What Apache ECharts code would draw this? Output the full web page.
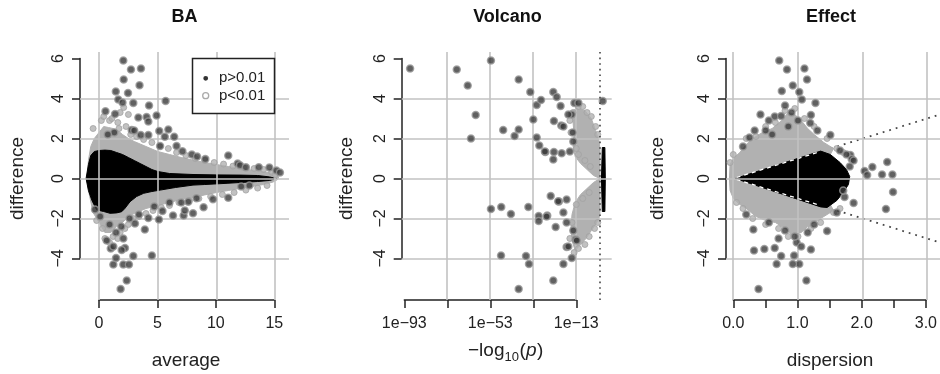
<!DOCTYPE html>
<html><head><meta charset="utf-8">
<script src="https://cdn.jsdelivr.net/npm/echarts/dist/echarts.min.js"></script>
<style>html,body{margin:0;padding:0;background:#fff}#c{width:940px;height:374px}</style>
</head><body><div id="c"></div>
<script>
// ---------------- data ----------------
const panelTitles = ['BA', 'Volcano', 'Effect'];
const xTitles = ['average', '', 'dispersion'];
const yTitle = 'difference';
const legendLabels = ['p>0.01', 'p<0.01'];

const yTicks = [-4, 6, 2];            // min, max, step of y tick labels
const gridY = [-4, -2, 0, 2, 4];

const baXTicks = [0, 15, 5];
const baGridX = [0, 5, 10, 15];
const volXTicks = [-93, -13, 20];     // log10(p)
const volLabelled = [-93, -53, -13];
const volGridX = [-73, -53, -33, -13];
const volCutoff = [-2];               // log10(0.01)
const effXTicks = [0, 3, 0.5];
const effLabelled = [0, 1, 2, 3];
const effGridX = [0, 1, 2, 3];
const effRefSlopes = [1, -1];
const effRefX = [0, 3.2];
const effWedgeX = [0.05, 1.35];

// BA : dense clouds (outlines) and separate points
const baBlackCloud = [[-1.1,0],[-0.9,0.7],[-0.7,1.15],[-0.4,1.35],[0,1.4],[0.5,1.42],[1,1.4],[1.5,1.3],[2,1.2],[2.5,1.05],[3,0.9],[3.5,0.75],[4,0.6],[4.5,0.45],[5,0.35],[6,0.25],[8,0.2],[10,0.18],[12,0.17],[13.5,0.15],[14.5,0.08],[15.1,0],
  [14.5,-0.1],[13.5,-0.15],[12,-0.2],[10.9,-0.24],[9,-0.3],[8,-0.33],[6.5,-0.45],[5.2,-0.58],[4.5,-0.65],[3.8,-0.74],[3.2,-0.9],[2.64,-1.16],[2.2,-1.5],[1.93,-1.66],[1.5,-1.72],[0.94,-1.74],[0.4,-1.65],[-0.2,-1.57],[-0.6,-1.1],[-0.9,-0.6]];
const baGrayCloud = [[-1.0,0],[-0.9,0.9],[-0.7,1.6],[-0.4,2.0],[0,2.3],[0.4,2.6],[0.8,2.55],[1.2,2.5],[1.6,2.4],[2,2.2],[2.5,2.0],[3,1.85],[4,1.6],[5,1.35],[6,1.2],[7,1.05],[8,0.92],[9,0.8],[10,0.7],[11,0.6],[12,0.5],[13,0.42],[14,0.35],[14.8,0.25],[15.3,0.08],
  [15.2,-0.05],[14.8,-0.18],[14,-0.3],[13,-0.4],[12,-0.5],[11,-0.6],[10,-0.7],[9,-0.82],[8,-0.95],[7,-1.05],[6,-1.2],[5,-1.35],[4,-1.5],[3,-1.75],[2.5,-1.9],[2,-2.2],[1.5,-2.4],[1.0,-2.7],[0.5,-2.7],[0,-2.2],[-0.5,-1.7],[-0.9,-0.6]];
const baGray = [[-0.5,2.5],[0.2,2.9],[0.4,3.1],[0.9,2.9],[1.1,3.0],[1.6,2.8],[1.8,3.3],[1.7,2.5],[2.3,2.6],[2.5,3.2],[2.1,3.55],[2.7,2.2],[3.2,2.1],[3.8,1.95],[4.5,1.8],[5.2,1.6],[5.9,1.5],[6.6,1.3],[7.4,1.15],[8.2,1.0],[9.0,0.9],[9.8,0.8],[10.6,0.72],[11.4,0.62],[12.3,0.55],[13.2,0.5],[14.0,0.45],[14.7,0.32],[15.0,0.2],
  [-0.2,-2.1],[0.3,-2.5],[0.5,-3.0],[0.9,-3.2],[1.2,-2.9],[1.6,-3.0],[1.8,-2.7],[2.2,-2.5],[2.5,-2.3],[2.9,-2.0],[3.4,-1.9],[4.0,-1.75],[4.6,-1.6],[5.3,-1.45],[6.0,-1.35],[6.8,-1.2],[7.7,-1.1],[8.5,-1.0],[9.5,-0.9],[10.5,-0.8],[11.5,-0.7],[12.5,-0.58],[13.5,-0.48],[14.3,-0.35]];
const baDark = [[2.07,5.9],[2.1,4.95],[2.72,5.45],[3.57,5.5],[3.45,4.66],[1.43,4.35],[2.47,4.27],[1.64,3.95],[2.0,3.8],[2.92,3.78],[4.26,3.65],[5.67,3.88],
  [0.55,3.36],[1.37,3.22],[3.35,3.05],[4.05,3.07],[4.9,3.15],[4.2,2.85],[2.78,2.43],[3.55,2.18],[4.2,2.18],[5.13,2.38],[5.6,2.09],[5.9,2.45],[6.4,2.09],[3.0,2.4],[1.3,2.3],[0.75,2.2],
  [5.2,1.62],[6.6,1.62],[7.1,1.36],[7.9,1.2],[8.35,1.1],[9.05,0.97],[11.0,1.15],[11.8,0.75],[12.0,0.66],[12.5,0.56],[13.6,0.56],[14.5,0.55],[15.1,0.4],[15.4,0.3],
  [1.84,-5.52],[2.36,-5.1],[2.07,-4.3],[2.55,-4.3],[1.22,-4.3],[1.45,-3.97],[2.92,-3.88],[4.5,-3.85],[2.21,-3.47],[2.07,-3.0],[0.65,-3.1],[1.0,-3.5],[1.93,-3.57],[1.22,-3.4],[1.45,-2.7],[3.06,-2.25],[3.9,-2.55],[3.4,-1.8],[4.2,-1.97],[5.1,-2.05],[5.4,-1.63],
  [6.3,-1.85],[7.2,-1.85],[7.3,-1.6],[8.0,-1.74],[7.6,-1.16],[7.0,-1.2],[8.9,-1.44],[8.3,-0.99],[9.7,-1.04],[11.0,-0.96],[12.1,-0.4],[12.8,-0.35],[-0.34,-1.55],[0.1,-1.9],[0.9,-2.3],[1.9,-2.4],[2.6,-2.0],[4.7,-1.4],[6.0,-1.2]];

// Volcano (x = log10 p)
const volGrayUpper = [[-2,0],[-5,0.15],[-8,0.45],[-11,0.75],[-13.5,1.1],[-14.5,1.6],[-14,2.2],[-14.5,2.8],[-15.5,3.3],[-13,3.5],[-9,3.4],[-6,3.0],[-4,2.4],[-2.5,1.9],[-2,1.5]];
const volGrayLower = [[-2,0],[-5,-0.2],[-8,-0.5],[-11,-0.8],[-13.5,-1.2],[-15,-1.8],[-15.5,-2.5],[-15,-3.1],[-13.5,-3.6],[-11,-3.3],[-8.5,-3.0],[-6,-2.6],[-4,-2.3],[-2.5,-2.0],[-2,-1.8]];
const volBlackBar = [[-0.9,1.55],[0.3,1.55],[0.5,0],[0.3,-1.65],[-0.9,-1.65],[-1.3,0]];
const volGray = [[-12,3.6],[-10,3.6],[-8,3.3],[-14.5,3.3],[-16,2.9],[-15.5,2.3],[-13,1.5],[-12,1.2],[-6,3.1],[-4,2.6],[-3,2.2],[-9,0.9],[-6.5,0.6],
  [-15,-2.2],[-16,-3.0],[-14,-3.7],[-12,-3.5],[-9,-3.3],[-7,-2.9],[-4.5,-2.5],[-3,-2.2],[-13,-1.3],[-10,-1.0],[-7,-0.7]];
const volDark = [[-90.3,5.5],[-68.6,5.45],[-63.5,4.65],[-59.8,3.17],[-62.0,2.0],[-52.7,5.9],[-39.8,4.95],[-47.0,2.42],[-41.7,2.12],[-39.8,2.45],[-34.4,4.32],[-33.0,2.95],[-31.4,3.67],[-29.4,3.92],[-31.4,2.05],[-30.2,1.65],[-27.4,1.32],[-23.4,1.32],[-23.7,0.95],[-23.7,4.32],[-22.1,4.07],[-23.4,2.87],[-20.3,3.62],[-20.0,2.65],[-19.0,2.6],[-15.1,3.2],[-13.9,3.78],[-12.0,3.78],[-16.7,3.2],[-27.6,1.35],[-19.8,1.26],[-16,1.35],[-14.4,1.85],[-14.7,2.3],[-0.7,3.87],
  [-52.7,-1.52],[-47.9,-1.42],[-43.4,-1.77],[-35.3,-1.42],[-48.0,-3.85],[-36.4,-3.88],[-35.0,-4.27],[-39.8,-5.52],[-30.5,-1.88],[-30.5,-2.12],[-26.5,-1.85],[-24.9,-0.88],[-23.7,-5.1],[-22.6,-2.43],[-21.1,-1.15],[-19.0,-4.27],[-17.5,-3.42],[-17.5,-2.2],[-15.1,-3.97],[-13.3,-3.05],[-21.4,-1.14],[-17.5,-1.05],[-26.8,-1.9],[-19,-1.7],[-14.4,-2.6],[-12.8,-3.1],[-16.7,-3.4]];

// Effect (x = dispersion)
const effGrayCloud = [[-0.06,0],[-0.05,0.7],[0.0,1.0],[0.1,1.3],[0.2,1.7],[0.3,2.0],[0.45,2.3],[0.6,2.5],[0.75,2.9],[0.85,3.3],[0.95,3.2],[1.05,2.9],[1.15,2.5],[1.25,2.2],[1.4,1.8],[1.55,1.5],[1.5,1.2],[1.3,0],
  [1.5,-1.3],[1.55,-1.6],[1.4,-1.9],[1.3,-2.1],[1.15,-2.4],[1.05,-2.7],[0.9,-2.8],[0.8,-2.5],[0.65,-2.2],[0.5,-2.1],[0.35,-1.9],[0.2,-1.5],[0.1,-1.3],[0.0,-1.0],[-0.05,-0.6]];
const effBlackCloud = [[0.03,0],[1.35,1.37],[1.5,1.2],[1.65,0.8],[1.75,0.45],[1.8,0.1],[1.78,-0.3],[1.7,-0.7],[1.6,-1.1],[1.45,-1.45],[1.35,-1.42]];
const effGray = [[0.2,2.0],[0.35,2.1],[0.5,2.6],[0.65,2.8],[0.8,3.4],[0.95,3.5],[1.1,3.0],[1.25,2.6],[1.45,2.0],[1.6,1.5],[0.0,1.2],[-0.05,0.8],[0.05,-1.2],[0.15,-1.5],[0.3,-2.0],[0.5,-2.3],[0.7,-2.5],[0.85,-2.9],[1.0,-2.9],[1.2,-2.5],[1.35,-2.2],[1.55,-1.7],[1.65,-1.5],[1.7,1.3]];
const effDark = [[0.71,5.9],[0.83,5.45],[1.10,5.5],[1.14,4.95],[0.92,4.65],[0.75,4.37],[1.02,4.32],[1.06,3.95],[1.27,3.78],[0.80,3.65],[0.42,3.2],[0.64,3.1],[0.74,3.12],[1.20,3.17],[1.19,2.78],[0.5,2.4],[0.33,2.4],[1.50,2.17],[1.81,1.17],[1.83,0.98],[1.86,0.9],[2.15,0.57],[2.03,0.37],[2.07,0.17],[2.30,0.2],[2.38,0.82],[2.46,0.2],[2.47,-0.68],[2.36,-1.52],[1.72,-0.93],[1.86,-1.22],
  [1.45,-2.63],[1.20,-3.55],[1.13,-5.1],[1.02,-4.27],[0.92,-4.27],[0.94,-3.85],[0.74,-3.88],[0.67,-4.27],[0.48,-3.52],[0.64,-3.47],[0.32,-3.6],[0.31,-2.55],[0.39,-5.52],[0.98,-3.2],
  [0.55,2.9],[0.9,3.3],[1.0,2.9],[0.6,2.2],[0.25,2.05],[0.15,1.6],[1.3,2.4],[0.85,2.6],[0.95,-2.9],[0.8,-2.6],[1.15,-2.7],[1.25,-2.3],[0.55,-2.2],[0.2,-1.8],[0.7,-3.0],[1.05,-3.4],[1.6,-1.7],[1.65,1.4],[1.75,1.2],[1.7,-0.6],[1.8,0.6]];

// ---------------- layout ----------------
const FONT = "'Liberation Sans', Arial, Helvetica, sans-serif";
const INK = '#222';
const GRIDC = '#c2c2c2';
const DARKPT = {color:'#3a3a3a', borderColor:'#979797', borderWidth:1.5};
const GRAYPT = {color:'#b1b1b1', borderColor:'#a2a2a2', borderWidth:1};

const dataGrids = [
  {left:80, top:52, width:209, height:248, xmin:-1.617, xmax:16.17},
  {left:401.7, top:52, width:210, height:248, xmin:-94.21, xmax:3.47},
  {left:726, top:52, width:214, height:248, xmin:-0.113, xmax:3.196}
];
const yMin = -6.075, yMax = 6.325;
const xAxisGrids = [
  {left:99, width:175.3, ticks:baXTicks, fmt:v=>String(v)},
  {left:404.3, width:172, ticks:volXTicks, fmt:v=>volLabelled.includes(v)?('1e' + String(v).replace('-', '\u2212')):''},
  {left:733.3, width:194, ticks:effXTicks, fmt:v=>effLabelled.includes(v)?v.toFixed(1):''}
];
const yAxisLeft = [80, 401.7, 726];

const grid = [], xAxis = [], yAxis = [], series = [];
dataGrids.forEach((g,i)=>{
  grid.push({left:g.left, top:g.top, width:g.width, height:g.height});
  xAxis.push({type:'value', gridIndex:i, min:g.xmin, max:g.xmax, show:false});
  yAxis.push({type:'value', gridIndex:i, min:yMin, max:yMax, show:false});
});
const axisLineStyle = {color:INK, width:1.5};
xAxisGrids.forEach((a,i)=>{
  grid.push({left:a.left, width:a.width, top:299, height:1});
  xAxis.push({type:'value', gridIndex:3+i, min:a.ticks[0], max:a.ticks[1], interval:a.ticks[2], position:'bottom',
    axisLine:{show:true, onZero:false, lineStyle:axisLineStyle},
    axisTick:{show:true, length:8, lineStyle:axisLineStyle},
    splitLine:{show:false},
    axisLabel:{show:true, interval:0, showMinLabel:true, showMaxLabel:true, hideOverlap:false, margin:16, fontSize:16, fontFamily:FONT, color:INK, formatter:a.fmt}});
  yAxis.push({type:'value', gridIndex:3+i, min:0, max:1, show:false});
});
yAxisLeft.forEach((l,i)=>{
  grid.push({left:l, width:1, top:58.5, height:200});
  xAxis.push({type:'value', gridIndex:6+i, min:0, max:1, show:false});
  yAxis.push({type:'value', gridIndex:6+i, min:yTicks[0], max:yTicks[1], interval:yTicks[2], position:'left',
    axisLine:{show:true, onZero:false, lineStyle:axisLineStyle},
    axisTick:{show:true, length:8, lineStyle:axisLineStyle},
    splitLine:{show:false},
    axisLabel:{show:true, rotate:90, margin:13, fontSize:16, fontFamily:FONT, color:INK, formatter:v=>String(v).replace('-', '\u2212')}});
});

function poly(idx, pts, color, z){
  return {type:'custom', xAxisIndex:idx, yAxisIndex:idx, z:z, silent:true, animation:false, clip:true,
    data:[pts[0]],
    renderItem:(params, api)=>({type:'polygon', shape:{points:pts.map(p=>api.coord(p))}, style:{fill:color, stroke:color, lineWidth:1}})};
}
function vLines(idx, xs, z, style){
  return {type:'custom', xAxisIndex:idx, yAxisIndex:idx, z:z, silent:true, animation:false,
    data:xs.map(v=>[v,0]),
    renderItem:(params, api)=>{const cs=params.coordSys; const x=Math.round(api.coord([api.value(0),0])[0]);
      return {type:'line', shape:{x1:x, y1:cs.y, x2:x, y2:cs.y+cs.height}, style:style};}};
}
function hLines(idx, ys, z, style){
  return {type:'custom', xAxisIndex:idx, yAxisIndex:idx, z:z, silent:true, animation:false,
    data:ys.map(v=>[0,v]),
    renderItem:(params, api)=>{const cs=params.coordSys; const y=Math.round(api.coord([0,api.value(1)])[1]);
      return {type:'line', shape:{x1:cs.x, y1:y, x2:cs.x+cs.width, y2:y}, style:style};}};
}
function pts(idx, data, style, size, z){
  return {type:'scatter', xAxisIndex:idx, yAxisIndex:idx, z:z, silent:true, animation:false,
    data:data, symbol:'circle', symbolSize:size, itemStyle:style};
}
const gridStyle = {stroke:GRIDC, lineWidth:1.6};

// Panel 1: BA
series.push(poly(0, baGrayCloud, '#b1b1b1', 1));
series.push(poly(0, baBlackCloud, '#000', 2));
series.push(vLines(0, baGridX, 3, gridStyle));
series.push(hLines(0, gridY, 3, gridStyle));
series.push(pts(0, baGray, GRAYPT, 6, 4));
series.push(pts(0, baDark, DARKPT, 7, 5));

// Panel 2: Volcano
series.push(poly(1, volGrayUpper, '#b1b1b1', 1));
series.push(poly(1, volGrayLower, '#b1b1b1', 1));
series.push(poly(1, volBlackBar, '#000', 2));
series.push(vLines(1, volGridX, 3, gridStyle));
series.push(hLines(1, gridY, 3, gridStyle));
series.push(pts(1, volGray, GRAYPT, 6, 4));
series.push(pts(1, volDark, DARKPT, 7, 5));
series.push(vLines(1, volCutoff, 6, {stroke:'#444', lineWidth:1.6, lineDash:[1.6,4]}));

// Panel 3: Effect
effRefSlopes.forEach(s=>{
  series.push({type:'line', xAxisIndex:2, yAxisIndex:2, z:0.5, silent:true, animation:false, symbol:'none',
    data:effRefX.map(x=>[x, s*x]), lineStyle:{color:'#444', width:1.8, type:[1.8,5]}});
});
series.push(poly(2, effGrayCloud, '#b1b1b1', 1));
series.push(poly(2, effBlackCloud, '#000', 2));
effRefSlopes.forEach(s=>{
  series.push({type:'line', xAxisIndex:2, yAxisIndex:2, z:2.5, silent:true, animation:false, symbol:'none',
    data:effWedgeX.map(x=>[x, s*x]), lineStyle:{color:'#fff', width:1.3, type:[4,4]}});
});
series.push(vLines(2, effGridX, 3, gridStyle));
series.push(hLines(2, gridY, 3, gridStyle));
series.push(pts(2, effGray, GRAYPT, 6, 4));
series.push(pts(2, effDark, DARKPT, 7, 5));

// ---------------- text & legend ----------------
const graphic = [];
const titleX = [184.5, 507.5, 831];
panelTitles.forEach((t,i)=>graphic.push({type:'text', x:titleX[i], y:17, z:100,
  style:{text:t, fontSize:18, fontWeight:'bold', fontFamily:FONT, fill:'#111', align:'center', verticalAlign:'middle'}}));
const yTitleX = [17.5, 346.5, 657.5];
yTitleX.forEach(x=>graphic.push({type:'text', x:x, y:178.5, rotation:Math.PI/2, z:100,
  style:{text:yTitle, fontSize:19, fontFamily:FONT, fill:INK, align:'center', verticalAlign:'middle'}}));
graphic.push({type:'text', x:186, y:361, z:100, style:{text:xTitles[0], fontSize:19, fontFamily:FONT, fill:INK, align:'center', verticalAlign:'middle'}});
graphic.push({type:'text', x:830, y:361, z:100, style:{text:xTitles[2], fontSize:19, fontFamily:FONT, fill:INK, align:'center', verticalAlign:'middle'}});
// -log10(p)
graphic.push({type:'text', x:468, y:351, z:100, style:{text:'\u2212log', fontSize:19, fontFamily:FONT, fill:INK, align:'left', verticalAlign:'middle'}});
graphic.push({type:'text', x:504.5, y:357, z:100, style:{text:'10', fontSize:13, fontFamily:FONT, fill:INK, align:'left', verticalAlign:'middle'}});
graphic.push({type:'text', x:519.5, y:351, z:100, style:{text:'(', fontSize:19, fontFamily:FONT, fill:INK, align:'left', verticalAlign:'middle'}});
graphic.push({type:'text', x:526, y:351, z:100, style:{text:'p', fontSize:19, fontStyle:'italic', fontFamily:FONT, fill:INK, align:'left', verticalAlign:'middle'}});
graphic.push({type:'text', x:537, y:351, z:100, style:{text:')', fontSize:19, fontFamily:FONT, fill:INK, align:'left', verticalAlign:'middle'}});
// legend
graphic.push({type:'rect', z:100, shape:{x:192.5, y:58.5, width:82, height:55}, style:{fill:'#fff', stroke:INK, lineWidth:1.5}});
graphic.push({type:'circle', z:101, shape:{cx:205.7, cy:78.3, r:2.4}, style:{fill:'#333'}});
graphic.push({type:'circle', z:101, shape:{cx:205.7, cy:95.7, r:3}, style:{fill:'none', stroke:'#aaa', lineWidth:1.3}});
graphic.push({type:'text', z:101, x:219, y:78.3, style:{text:legendLabels[0], fontSize:15, fontFamily:FONT, fill:INK, align:'left', verticalAlign:'middle'}});
graphic.push({type:'text', z:101, x:219, y:95.7, style:{text:legendLabels[1], fontSize:15, fontFamily:FONT, fill:INK, align:'left', verticalAlign:'middle'}});

const chart = echarts.init(document.getElementById('c'), null, {renderer:'canvas'});
chart.setOption({animation:false, backgroundColor:'#fff', grid, xAxis, yAxis, series, graphic});
</script></body></html>
